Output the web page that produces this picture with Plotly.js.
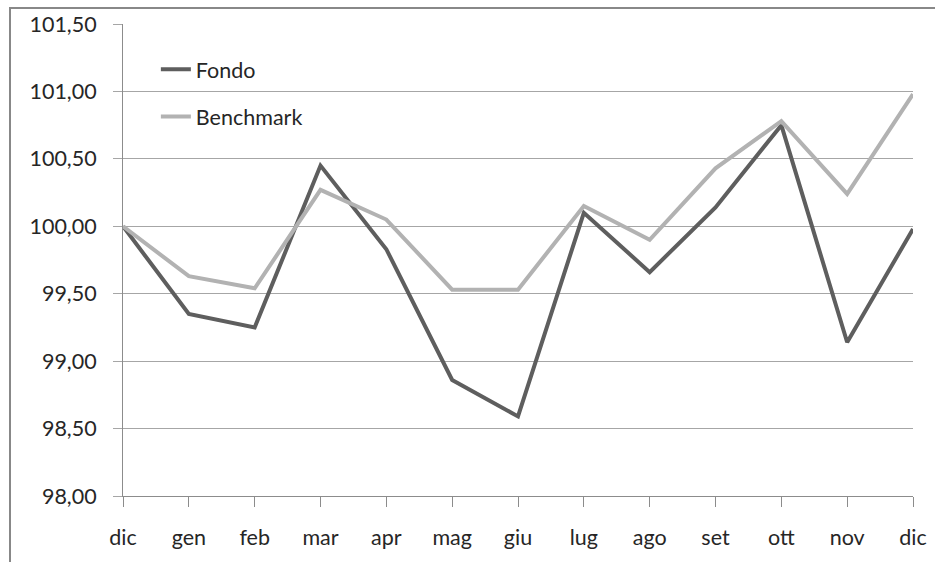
<!DOCTYPE html>
<html>
<head>
<meta charset="utf-8">
<script src="https://cdn.plot.ly/plotly-3.0.1.min.js"></script>
<style>html,body{margin:0;padding:0;background:#fff;}#chart{width:935px;height:562px;}</style>
</head>
<body>
<div id="chart"></div>
<script>
const months = ["dic","gen","feb","mar","apr","mag","giu","lug","ago","set","ott","nov","dic"];
const fondo = [100.00, 99.35, 99.25, 100.45, 99.83, 98.86, 98.59, 100.10, 99.66, 100.14, 100.75, 99.14, 99.98];
const benchmark = [100.00, 99.63, 99.54, 100.27, 100.05, 99.53, 99.53, 100.15, 99.90, 100.43, 100.78, 100.24, 100.98];
const yTicks = [98.0, 98.5, 99.0, 99.5, 100.0, 100.5, 101.0, 101.5];
const yTickText = ["98,00","98,50","99,00","99,50","100,00","100,50","101,00","101,50"];

const idx = months.map((m, i) => i);
const font = {family: "Lato, 'Open Sans', sans-serif", size: 21.5, color: "#262626"};

const traces = [
  {x: idx, y: fondo, name: "Fondo", type: "scatter", mode: "lines",
   line: {color: "#5e5e5e", width: 4}, legend: "legend"},
  {x: idx, y: benchmark, name: "Benchmark", type: "scatter", mode: "lines",
   line: {color: "#b2b2b2", width: 4}, legend: "legend2"}
];

const layout = {
  width: 935, height: 562,
  margin: {l: 123, r: 22, t: 24, b: 66},
  paper_bgcolor: "#fff", plot_bgcolor: "#fff",
  font: font,
  showlegend: true,
  legend: {x: 0.0416, y: 0.904, xanchor: "left", yanchor: "middle", bgcolor: "rgba(0,0,0,0)", font: font},
  legend2: {x: 0.0416, y: 0.804, xanchor: "left", yanchor: "middle", bgcolor: "rgba(0,0,0,0)", font: font},
  xaxis: {
    range: [0, 12], tickvals: idx, ticktext: months,
    showgrid: false, zeroline: false,
    showline: true, linecolor: "#8c8c8c", linewidth: 1,
    ticks: "outside", ticklen: 10, tickcolor: "#8c8c8c",
    ticklabelstandoff: 12, tickfont: font
  },
  yaxis: {
    range: [98, 101.5], tickvals: yTicks, ticktext: yTickText,
    showgrid: true, gridcolor: "#a6a6a6", gridwidth: 1, zeroline: false,
    showline: true, linecolor: "#8c8c8c", linewidth: 1,
    ticks: "outside", ticklen: 9, tickcolor: "#a6a6a6",
    ticklabelstandoff: 12, tickfont: font
  },
  shapes: [
    {type: "rect", xref: "paper", yref: "paper",
     x0: -113/790, x1: 1.1, y0: -0.3, y1: 1 + 16/472,
     line: {color: "#888", width: 2}, fillcolor: "rgba(0,0,0,0)", layer: "below"}
  ]
};

Plotly.newPlot("chart", traces, layout, {displayModeBar: false, staticPlot: true});
</script>
</body>
</html>
